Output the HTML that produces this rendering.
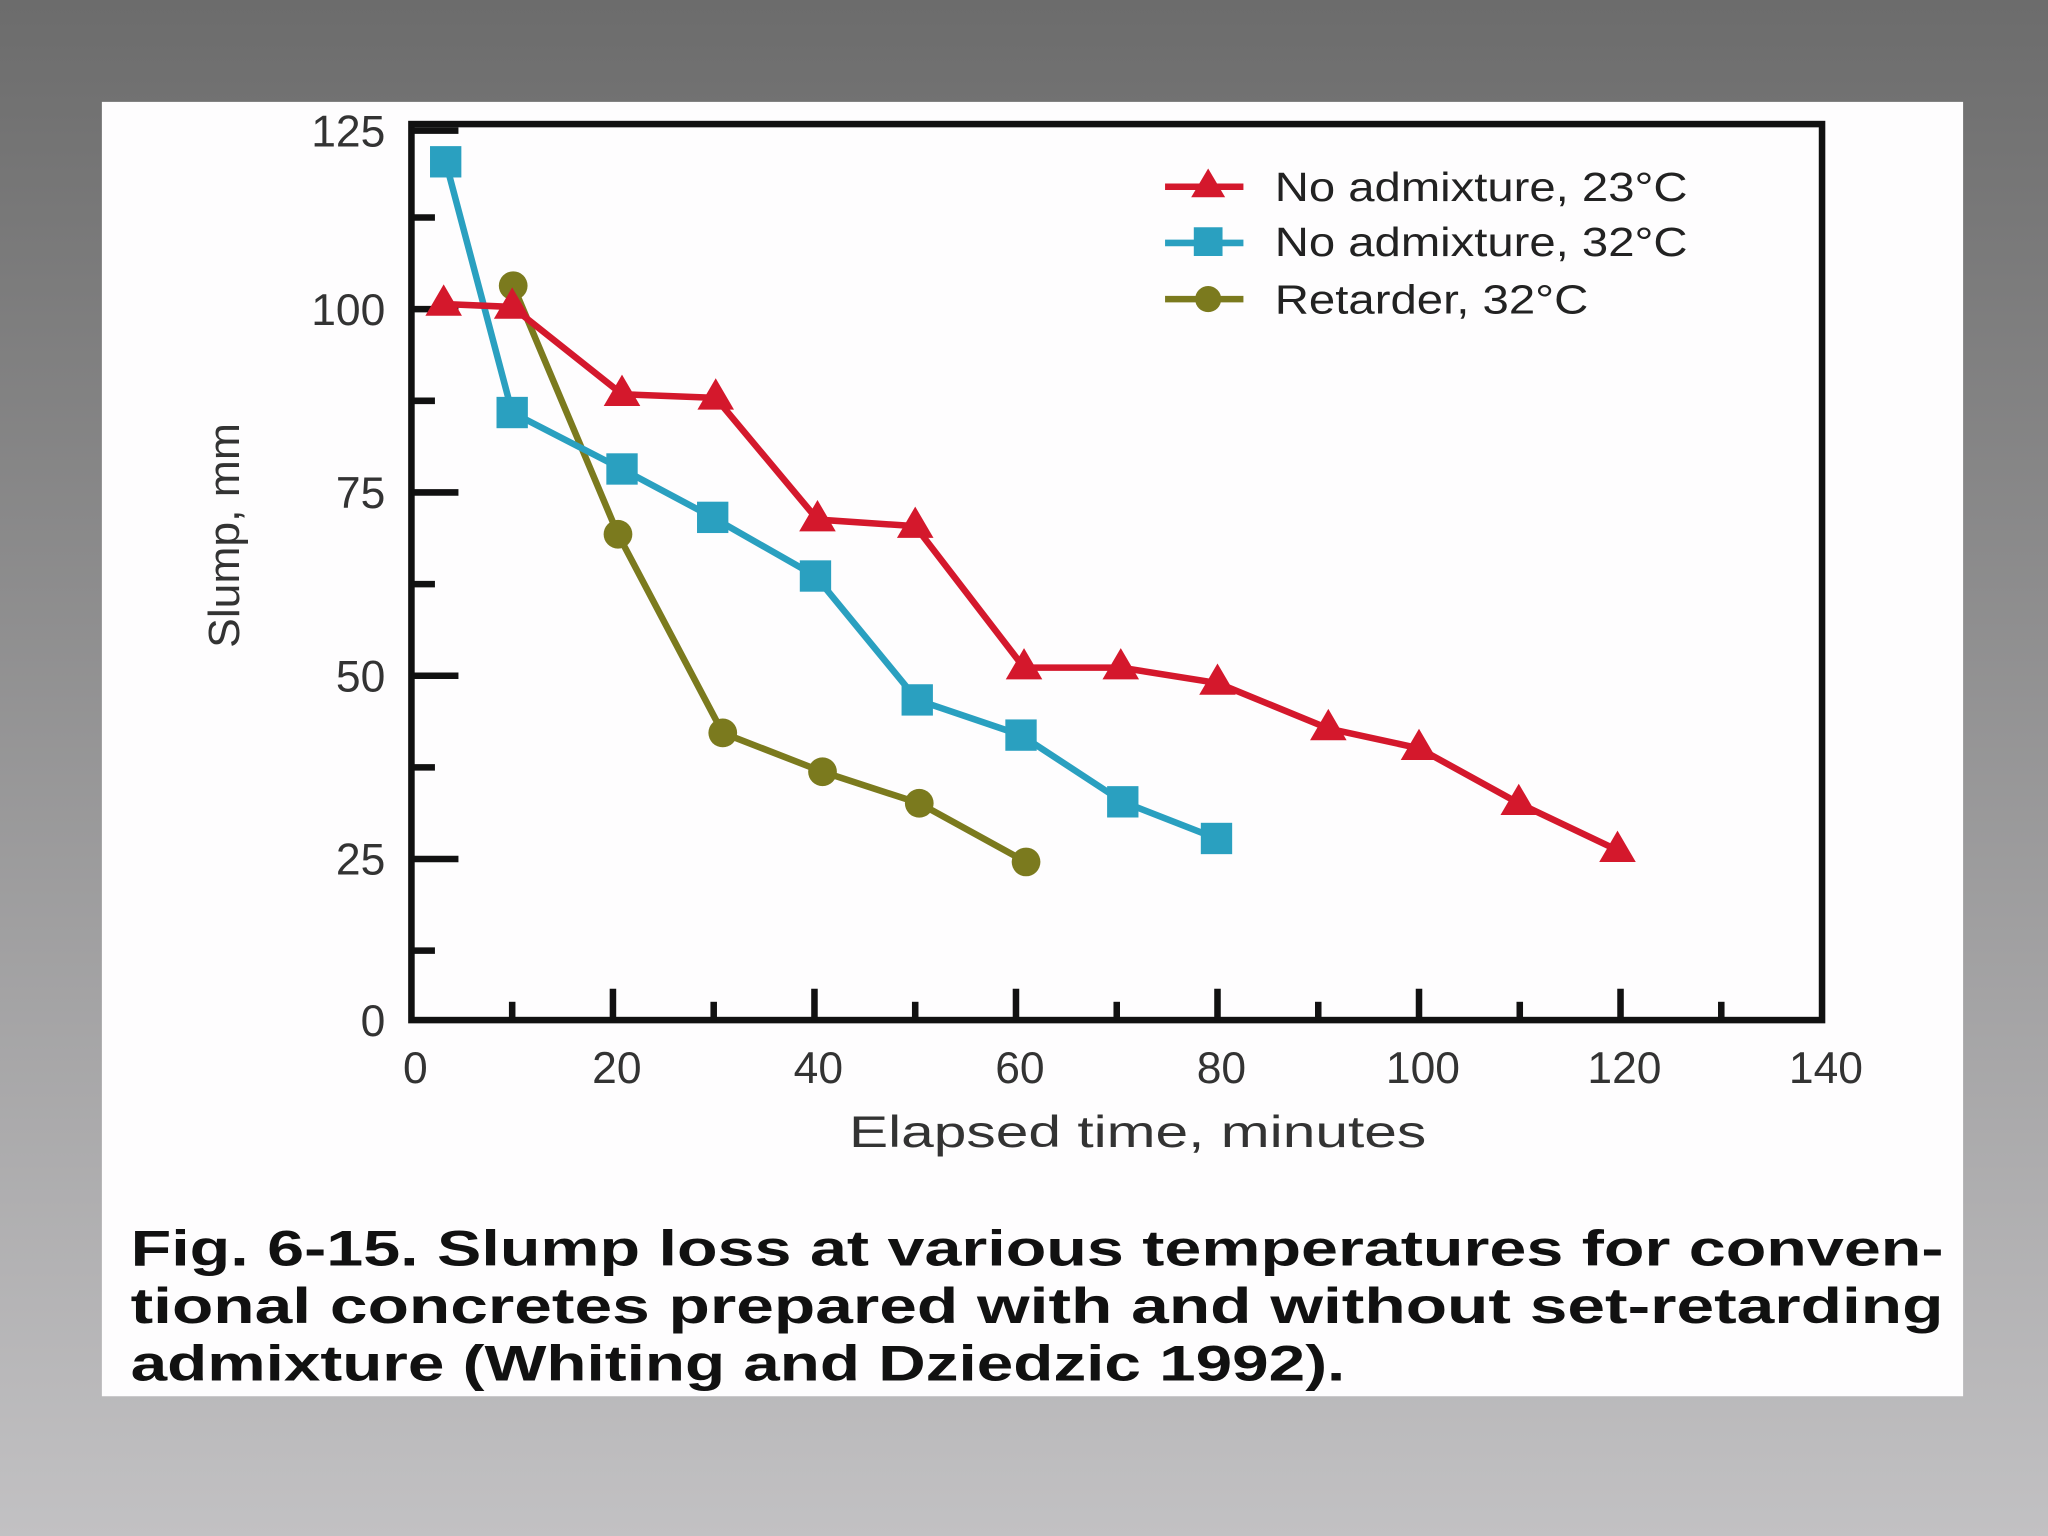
<!DOCTYPE html>
<html><head><meta charset="utf-8"><style>
html,body{margin:0;padding:0;width:2048px;height:1536px;overflow:hidden}
svg{display:block}
text{font-family:"Liberation Sans",sans-serif}
</style></head><body>
<svg id="chart" width="2048" height="1536" viewBox="0 0 1568 1176" xmlns="http://www.w3.org/2000/svg">
<defs><linearGradient id="bg" x1="0" y1="0" x2="0" y2="1"><stop offset="0" stop-color="#6c6c6c"/><stop offset="1" stop-color="#c2c1c3"/></linearGradient></defs>
<rect x="0" y="0" width="1568" height="1176" fill="url(#bg)"/>
<rect x="78" y="78" width="1425" height="991" fill="#fefdfe"/>
<g id="grid"></g>
<g id="series"></g>
<g font-size="31" fill="#222">
 <line x1="892" y1="143" x2="952" y2="143" stroke="#d4182c" stroke-width="5"/><polygon points="925,129 912,151 938,151" fill="#d4182c"/>
 <text x="976" y="154" textLength="316" lengthAdjust="spacingAndGlyphs">No admixture, 23°C</text>
 <line x1="892" y1="186" x2="952" y2="186" stroke="#2aa0c0" stroke-width="5"/><rect x="914" y="174" width="22" height="22" fill="#2aa0c0"/>
 <text x="976" y="196" textLength="316" lengthAdjust="spacingAndGlyphs">No admixture, 32°C</text>
 <line x1="892" y1="229" x2="952" y2="229" stroke="#7b7a1e" stroke-width="5"/><circle cx="925" cy="229" r="10" fill="#7b7a1e"/>
 <text x="976" y="240" textLength="240" lengthAdjust="spacingAndGlyphs">Retarder, 32°C</text>
</g>
<text transform="translate(183,410) rotate(-90)" text-anchor="middle" font-size="33" fill="#333" textLength="172" lengthAdjust="spacingAndGlyphs">Slump, mm</text>
<text x="871" y="878" text-anchor="middle" font-size="34" fill="#333" textLength="442" lengthAdjust="spacingAndGlyphs">Elapsed time, minutes</text>
<g font-weight="bold" font-size="38" fill="#111">
 <text x="100" y="969" textLength="1388" lengthAdjust="spacingAndGlyphs">Fig. 6-15. Slump loss at various temperatures for conven-</text>
 <text x="100" y="1013" textLength="1388" lengthAdjust="spacingAndGlyphs">tional concretes prepared with and without set-retarding</text>
 <text x="100" y="1057" textLength="930" lengthAdjust="spacingAndGlyphs">admixture (Whiting and Dziedzic 1992).</text>
</g>
</svg>
<script>
const xTicks=[0,20,40,60,80,100,120,140];
const xMinor=[10,30,50,70,90,110,130];
const yTicks=[0,25,50,75,100,125];
const yMinor=[12.5,37.5,62.5,87.5,112.5];
const redX=[3.2,10,20.9,30.2,40.3,50,60.8,70.4,80,91,100,109.9,119.7];
const redY=[100.7,100.3,88.4,87.9,71.3,70.4,51.1,51.1,49,42.8,40.1,32.6,26.2];
const blueX=[3.4,10,20.9,29.9,40.1,50.2,60.5,70.6,79.9];
const blueY=[120.1,85.9,78.2,71.6,63.6,46.7,41.9,32.8,27.8];
const oliveX=[10.1,20.5,30.9,40.8,50.4,61];
const oliveY=[103.2,69.3,42.2,36.9,32.6,24.6];
const NS='http://www.w3.org/2000/svg';
const L=315,R=1395,T=95,B=781;
function sx(v){return L+(v/140)*(R-L);}
function sy(v){return 798-5.613*v;}
function mk(tag,attrs,parent){const e=document.createElementNS(NS,tag);for(const k in attrs)e.setAttribute(k,attrs[k]);parent.appendChild(e);return e;}
const g=document.getElementById('grid');
const frame=mk('rect',{x:L,y:T,width:R-L,height:B-T,fill:'none',stroke:'#111','stroke-width':5},g);


xTicks.forEach(v=>{
 if(v>0&&v<140)mk('line',{x1:sx(v),y1:B,x2:sx(v),y2:B-24,stroke:'#111','stroke-width':5},g);
 const t=mk('text',{x:sx(v)+3,y:B+48,'text-anchor':'middle','font-size':34,fill:'#333'},g);
 t.textContent=v;
 
 
});
xMinor.forEach(v=>{mk('line',{x1:sx(v),y1:B,x2:sx(v),y2:B-14,stroke:'#111','stroke-width':5},g);});
yTicks.forEach(v=>{
 const y=Math.min(Math.max(sy(v),T+5),B);
 if(v>0)mk('line',{x1:L,y1:y,x2:L+36,y2:y,stroke:'#111','stroke-width':5},g);
 const t=mk('text',{x:L-20,y:y+12,'text-anchor':'end','font-size':34,fill:'#333'},g);
 t.textContent=v;
 
 
});
yMinor.forEach(v=>{mk('line',{x1:L,y1:sy(v),x2:L+18,y2:sy(v),stroke:'#111','stroke-width':5},g);});
const s=document.getElementById('series');
function series(xs,ys,color,shape,name){
 const pts=xs.map((x,i)=>sx(x)+','+sy(ys[i])).join(' ');
 const pl=mk('polyline',{points:pts,fill:'none',stroke:color,'stroke-width':5,'stroke-linejoin':'round'},s);
 
 
 xs.forEach((x,i)=>{
  const cx=sx(x),cy=sy(ys[i]);let m;
  if(shape==='tri')m=mk('polygon',{points:`${cx},${cy-15} ${cx-14},${cy+9} ${cx+14},${cy+9}`,fill:color},s);
  else if(shape==='sq')m=mk('rect',{x:cx-12,y:cy-12,width:24,height:24,fill:color},s);
  else m=mk('circle',{cx:cx,cy:cy,r:11,fill:color},s);
  
  
 });
}
series(oliveX,oliveY,'#7b7a1e','circ','retarder-32c');
series(blueX,blueY,'#2aa0c0','sq','no-admixture-32c');
series(redX,redY,'#d4182c','tri','no-admixture-23c');
</script>
</body></html>
